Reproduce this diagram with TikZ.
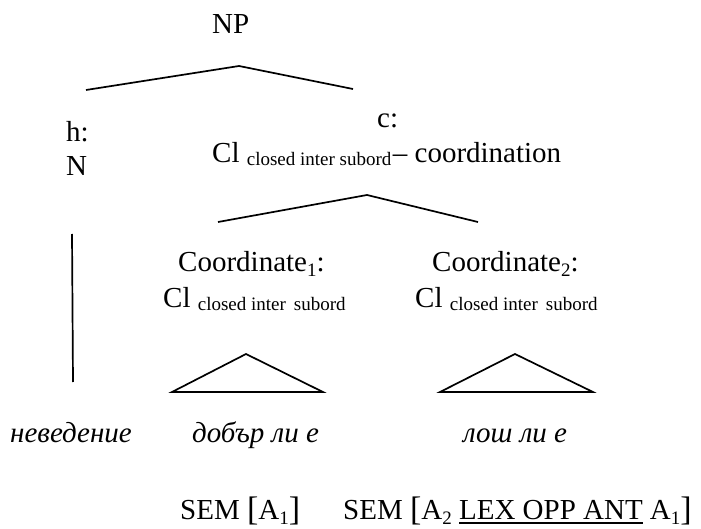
\documentclass[tikz,border=0pt]{standalone}
\usepackage{fontspec}
\setmainfont{Liberation Serif}
\newcommand\subtxt[1]{\raisebox{-3pt}{\fontsize{19}{19}\selectfont #1}}
\newcommand\idx[1]{\raisebox{-5pt}{\fontsize{19}{19}\selectfont #1}}
\newcommand\bigbr[1]{\raisebox{-1.5pt}{\fontsize{34}{34}\selectfont #1}}
\newcommand\lineunder[1]{\setbox0\hbox{#1}\rlap{\rule[-4.5pt]{\wd0}{1.6pt}}\box0\relax}
\tikzset{
  lbl/.style={inner sep=0pt, anchor=base west, font=\fontsize{29}{35}\selectfont},
  word/.style={lbl, font=\fontsize{29}{35}\selectfont\itshape},
  branch/.style={line width=1.7pt, line join=miter},
}
\begin{document}
\begin{tikzpicture}[x=1pt,y=-1pt]
\useasboundingbox (0,0) rectangle (701,529);

% labels of the tree
\node[lbl] (np) at (212,34) {NP};
\node[lbl] (h) at (66,142) {h:};
\node[lbl] (n) at (66,176) {N};
\node[lbl] (c) at (377,128) {c:};
\node[lbl] (clc) at (212,163) {Cl \subtxt{closed inter subord}\kern1.5pt–\ coordination};
\node[lbl] (co1) at (178,272) {Coordinate\idx{1}:};
\node[lbl] (cl1) at (163,307) {Cl \subtxt{closed inter\, subord}};
\node[lbl] (co2) at (432,272) {Coordinate\idx{2}:};
\node[lbl] (cl2) at (415,307) {Cl \subtxt{closed inter\, subord}};

% terminal words
\node[word] (w1) at (10,442) {неведение};
\node[word] (w2) at (192,442) {добър ли е};
\node[word] (w3) at (463,442) {лош ли е};

% semantic features
\node[lbl] (sem1) at (180,519) {SEM \bigbr{[}A\idx{1}\bigbr{]}};
\node[lbl] (sem2) at (343,519) {SEM \bigbr{[}A\idx{2} \lineunder{LEX OPP ANT} A\idx{1}\bigbr{]}};

% branch points
\coordinate (np-top) at (239,66);
\coordinate (np-l) at (86,90);
\coordinate (np-r) at (353,89);
\coordinate (c-top) at (367,195);
\coordinate (c-l) at (218,222);
\coordinate (c-r) at (478,222);
\coordinate (n-top) at (72,234);
\coordinate (n-bot) at (73,382);
\coordinate (t1-top) at (246,354);
\coordinate (t1-l) at (172,392);
\coordinate (t1-r) at (323,392);
\coordinate (t2-top) at (515,354);
\coordinate (t2-l) at (440,392);
\coordinate (t2-r) at (593,392);

% branches
\draw[branch] (np-l) -- (np-top) -- (np-r);
\draw[branch] (c-l) -- (c-top) -- (c-r);
\draw[branch] (n-top) -- (n-bot);
\draw[branch] (t1-top) -- (t1-l) -- (t1-r) -- cycle;
\draw[branch] (t2-top) -- (t2-l) -- (t2-r) -- cycle;
\end{tikzpicture}
\end{document}
